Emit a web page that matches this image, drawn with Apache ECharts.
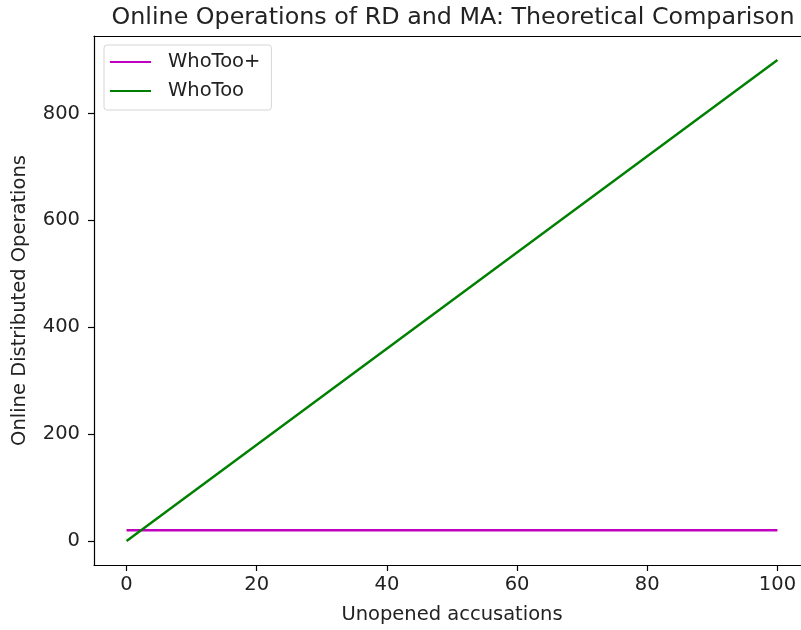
<!DOCTYPE html>
<html><head><meta charset="utf-8">
<script src="https://cdn.jsdelivr.net/npm/echarts@6/dist/echarts.min.js"></script>
<style>html,body{margin:0;padding:0;background:#fff;overflow:hidden;width:801px;height:630px}#c{width:810px;height:630px}</style>
</head><body><div id="c"></div>
<script>
const xValues = [0, 100];
const whoTooPlus = [20, 20];
const whoToo = [0, 900];
const xTicks = [0, 20, 40, 60, 80, 100];
const yTicks = [0, 200, 400, 600, 800];
const titleText = 'Online Operations of RD and MA: Theoretical Comparison';
const xLabel = 'Unopened accusations';
const yLabel = 'Online Distributed Operations';

const font = 'DejaVu Sans';
const fs = 19.5;
const chart = echarts.init(document.getElementById('c'));
const spine = {show: true, onZero: false, lineStyle: {color: '#000', width: 1.2}};
chart.setOption({
  animation: false,
  title: {text: titleText, left: 448, top: 1, textAlign: 'center',
    textStyle: {fontFamily: font, fontSize: 23.8, fontWeight: 'normal', color: '#222'}},
  grid: {left: 94, right: 0, top: 36, bottom: 63, show: false},
  legend: {
    orient: 'vertical', left: 104, top: 45,
    padding: [7, 11, 9, 6], itemGap: 9,
    borderColor: '#d6d6d6', borderWidth: 1, borderRadius: 3,
    icon: 'rect', itemWidth: 41, itemHeight: 2,
    textStyle: {fontFamily: font, fontSize: fs, color: '#222', padding: [0, 0, 0, 12]},
    data: ['WhoToo+', 'WhoToo']
  },
  xAxis: [{
    type: 'value', min: -5, max: 105, position: 'bottom',
    name: xLabel, nameLocation: 'middle', nameGap: 40,
    nameTextStyle: {color: '#222', fontFamily: font, fontSize: fs},
    axisLine: spine,
    splitLine: {show: false},
    axisTick: {show: true, length: 6, lineStyle: {color: '#000', width: 1.2}, customValues: xTicks},
    axisLabel: {color: '#222', fontFamily: font, fontSize: fs, margin: 10, customValues: xTicks}
  }, {
    type: 'value', min: -5, max: 105, position: 'top',
    axisLine: spine, axisTick: {show: false}, axisLabel: {show: false}, splitLine: {show: false}
  }],
  yAxis: {
    type: 'value', min: -45, max: 945,
    name: yLabel, nameLocation: 'middle', nameGap: 64,
    nameTextStyle: {color: '#222', fontFamily: font, fontSize: fs},
    axisLine: spine,
    splitLine: {show: false},
    axisTick: {show: true, length: 6, lineStyle: {color: '#000', width: 1.2}, customValues: yTicks},
    axisLabel: {color: '#222', fontFamily: font, fontSize: fs, margin: 14, customValues: yTicks}
  },
  series: [
    {name: 'WhoToo+', type: 'line', symbol: 'none', color: '#bf00bf',
      lineStyle: {width: 2.4, color: '#bf00bf'},
      data: xValues.map((x, i) => [x, whoTooPlus[i]])},
    {name: 'WhoToo', type: 'line', symbol: 'none', color: '#008000',
      lineStyle: {width: 2.4, color: '#008000'},
      data: xValues.map((x, i) => [x, whoToo[i]])}
  ]
});
</script></body></html>
